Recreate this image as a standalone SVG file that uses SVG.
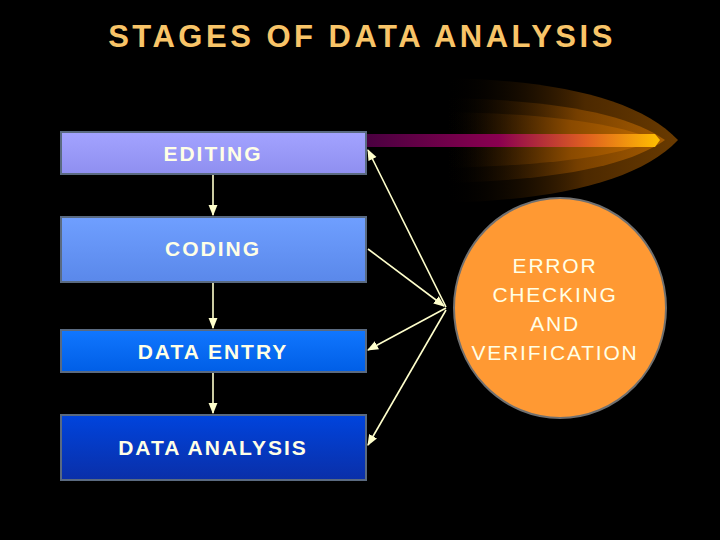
<svg xmlns="http://www.w3.org/2000/svg" width="720" height="540" viewBox="0 0 720 540">
<defs>
<style>
.lbl{font-family:"Liberation Sans",Arial,sans-serif;font-size:21px;fill:#ffffe6;text-anchor:middle;letter-spacing:1.8px}
.b{font-weight:bold;letter-spacing:2px}
.box{stroke:#5a6a80;stroke-width:2}
.ln{stroke:#ffffcc;stroke-width:1.6;fill:none}
</style>
<marker id="ah" viewBox="0 0 10 10" refX="9" refY="5" markerWidth="7" markerHeight="7" orient="auto-start-reverse"><path d="M0,1 L10,5 L0,9 z" fill="#ffffcc"/></marker>
<linearGradient id="g1" x1="0" y1="0" x2="0" y2="1"><stop offset="0" stop-color="#a3a3ff"/><stop offset="1" stop-color="#8f8ff0"/></linearGradient>
<linearGradient id="g2" x1="0" y1="0" x2="0" y2="1"><stop offset="0" stop-color="#6f9fff"/><stop offset="1" stop-color="#5a88ea"/></linearGradient>
<linearGradient id="g3" x1="0" y1="0" x2="0" y2="1"><stop offset="0" stop-color="#1177ff"/><stop offset="1" stop-color="#005ee6"/></linearGradient>
<linearGradient id="g4" x1="0" y1="0" x2="0" y2="1"><stop offset="0" stop-color="#0044dd"/><stop offset="1" stop-color="#0a2fa8"/></linearGradient>
<linearGradient id="bar" x1="0" y1="0" x2="1" y2="0"><stop offset="0" stop-color="#4a0040"/><stop offset="0.45" stop-color="#8a0050"/><stop offset="0.75" stop-color="#e06020"/><stop offset="1" stop-color="#ffc000"/></linearGradient>
<linearGradient id="fl" x1="0" y1="0" x2="1" y2="0"><stop offset="0" stop-color="#000" stop-opacity="0"/><stop offset="0.6" stop-color="#8a4a00"/><stop offset="1" stop-color="#c06a00"/></linearGradient>
</defs>
<rect width="720" height="540" fill="#000"/>
<text x="362" y="47" font-family="Liberation Sans,Arial,sans-serif" font-size="31" font-weight="bold" fill="#f8c468" text-anchor="middle" letter-spacing="3.5">STAGES OF DATA ANALYSIS</text>
<g id="flare">
<path d="M445,78 C560,80 640,100 678,140 C640,180 560,200 445,203 Z" fill="url(#fl)" opacity="0.55"/>
<path d="M445,98 C560,100 630,115 665,140 C630,165 560,180 445,183 Z" fill="url(#fl)" opacity="0.7"/>
<path d="M445,112 C560,114 620,125 655,140 C620,155 560,165 445,168 Z" fill="url(#fl)"/>
<path d="M367,134 L655,134 L660,140 L655,147 L367,147 Z" fill="url(#bar)"/>
</g>
<g id="connectors">
<line class="ln" x1="213" y1="175" x2="213" y2="215" marker-end="url(#ah)"/>
<line class="ln" x1="213" y1="283" x2="213" y2="328" marker-end="url(#ah)"/>
<line class="ln" x1="213" y1="373" x2="213" y2="413" marker-end="url(#ah)"/>
<line class="ln" x1="446" y1="307" x2="368" y2="150" marker-end="url(#ah)"/>
<line class="ln" x1="368" y1="249" x2="444" y2="306" marker-end="url(#ah)" stroke-width="2.2"/>
<line class="ln" x1="446" y1="308" x2="368" y2="350" marker-end="url(#ah)"/>
<line class="ln" x1="446" y1="310" x2="368" y2="445" marker-end="url(#ah)"/>
</g>
<g id="editing"><rect class="box" x="61" y="132" width="305" height="42" fill="url(#g1)"/><text class="lbl b" x="213" y="161">EDITING</text></g>
<g id="coding"><rect class="box" x="61" y="217" width="305" height="65" fill="url(#g2)"/><text class="lbl b" x="213" y="256">CODING</text></g>
<g id="entry"><rect class="box" x="61" y="330" width="305" height="42" fill="url(#g3)"/><text class="lbl b" x="213" y="359">DATA ENTRY</text></g>
<g id="analysis"><rect class="box" x="61" y="415" width="305" height="65" fill="url(#g4)"/><text class="lbl b" x="213" y="455">DATA ANALYSIS</text></g>
<g id="error"><ellipse cx="560" cy="308" rx="106" ry="110" fill="#ff9933" stroke="#707070" stroke-width="2"/>
<text class="lbl" x="555" y="273">ERROR</text><text class="lbl" x="555" y="302">CHECKING</text><text class="lbl" x="555" y="331">AND</text><text class="lbl" x="555" y="360">VERIFICATION</text></g>
</svg>
